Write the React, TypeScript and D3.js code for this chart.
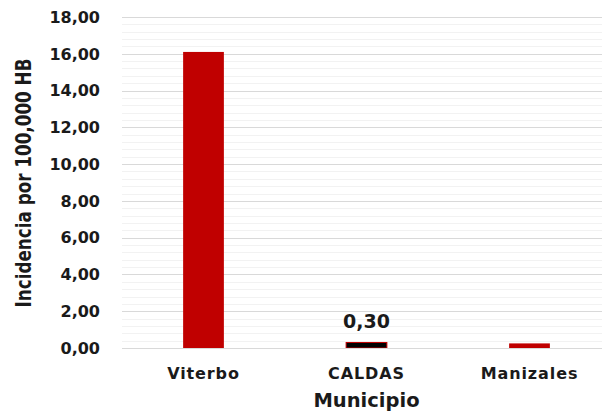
import React, { useRef, useEffect } from 'react';
import * as d3 from 'd3';

const categories = ['Viterbo', 'CALDAS', 'Manizales'];
const values = [16.1, 0.3, 0.25];
const fills = ['#c00000', '#000000', '#c00000'];
const yTicks = [0, 2, 4, 6, 8, 10, 12, 14, 16, 18];
const labelled = ['CALDAS'];

const W = 602;
const H = 413;

const App: React.FC = () => {
  const svgRef = useRef<SVGSVGElement | null>(null);

  useEffect(() => {
    const svg = d3.select(svgRef.current);
    svg.selectAll('*').remove();

    const left = 122;
    const right = 611;
    const top = 17;
    const bottom = 348;

    const x = d3.scaleBand<string>().domain(categories).range([left, right]).paddingInner(0.75).paddingOuter(0.375);
    const y = d3.scaleLinear().domain([0, 18]).range([bottom, top]);

    // minor gridlines
    const minor = d3.range(0, 18.01, 0.4).filter(v => Math.abs(v / 2 - Math.round(v / 2)) > 0.01);
    svg.append('g').selectAll('line').data(minor).enter().append('line')
      .attr('x1', left).attr('x2', W)
      .attr('y1', d => Math.round(y(d)) + 0.5).attr('y2', d => Math.round(y(d)) + 0.5)
      .attr('stroke', '#f2f2f2').attr('stroke-width', 1);

    // major gridlines
    svg.append('g').selectAll('line').data(yTicks.filter(d => d > 0)).enter().append('line')
      .attr('x1', left).attr('x2', W)
      .attr('y1', d => Math.round(y(d)) + 0.5).attr('y2', d => Math.round(y(d)) + 0.5)
      .attr('stroke', '#d9d9d9').attr('stroke-width', 1);

    // y tick labels
    svg.append('g').selectAll('text').data(yTicks).enter().append('text')
      .attr('x', 100).attr('y', d => y(d))
      .attr('dy', '0.36em')
      .attr('text-anchor', 'end')
      .style('font-family', 'DejaVu Sans')
      .style('font-weight', 'bold')
      .style('font-size', '16px')
      .attr('fill', '#1a1a1a')
      .text(d => d3.format('.2f')(d).replace('.', ','));

    // bars
    svg.append('g').selectAll('rect').data(categories).enter().append('rect')
      .attr('x', d => x(d)!)
      .attr('width', x.bandwidth())
      .attr('y', (d, i) => y(values[i]))
      .attr('height', (d, i) => bottom - y(values[i]))
      .attr('fill', (d, i) => fills[i])
      .attr('stroke', d => (labelled.includes(d) ? '#c00000' : 'none'))
      .attr('stroke-width', 1);

    // baseline
    svg.append('line')
      .attr('x1', left).attr('x2', W)
      .attr('y1', bottom + 0.5).attr('y2', bottom + 0.5)
      .attr('stroke', '#d9d9d9');

    // data label
    svg.append('g').selectAll('text').data(categories.filter(c => labelled.includes(c))).enter().append('text')
      .attr('x', d => x(d)! + x.bandwidth() / 2)
      .attr('y', d => y(values[categories.indexOf(d)]) - 14)
      .attr('text-anchor', 'middle')
      .style('font-family', 'DejaVu Sans')
      .style('font-weight', 'bold')
      .style('font-size', '19px')
      .attr('fill', '#1a1a1a')
      .text(d => d3.format('.2f')(values[categories.indexOf(d)]).replace('.', ','));

    // x labels
    svg.append('g').selectAll('text').data(categories).enter().append('text')
      .attr('x', d => x(d)! + x.bandwidth() / 2)
      .attr('y', 379)
      .attr('text-anchor', 'middle')
      .style('font-family', 'DejaVu Sans')
      .style('font-weight', 'bold')
      .style('font-size', '16px')
      .style('letter-spacing', '0.9px')
      .attr('fill', '#1a1a1a')
      .text(d => d);

    // x title
    svg.append('text')
      .attr('x', x('CALDAS')! + x.bandwidth() / 2)
      .attr('y', 407)
      .attr('text-anchor', 'middle')
      .style('font-family', 'DejaVu Sans')
      .style('font-weight', 'bold')
      .style('font-size', '19.5px')
      .attr('fill', '#1a1a1a')
      .text('Municipio');

    // y title (condensed look)
    svg.append('text')
      .attr('transform', 'translate(31,183) rotate(-90) scale(0.8,1)')
      .attr('text-anchor', 'middle')
      .style('font-family', 'DejaVu Sans')
      .style('font-weight', 'bold')
      .style('font-size', '21px')
      .attr('fill', '#1a1a1a')
      .text('Incidencia por 100,000 HB');
  }, []);

  return (
    <svg ref={svgRef} width={W} height={H}
      style={{ position: 'absolute', left: 0, top: 0, background: '#ffffff' }} />
  );
};

export default App;
